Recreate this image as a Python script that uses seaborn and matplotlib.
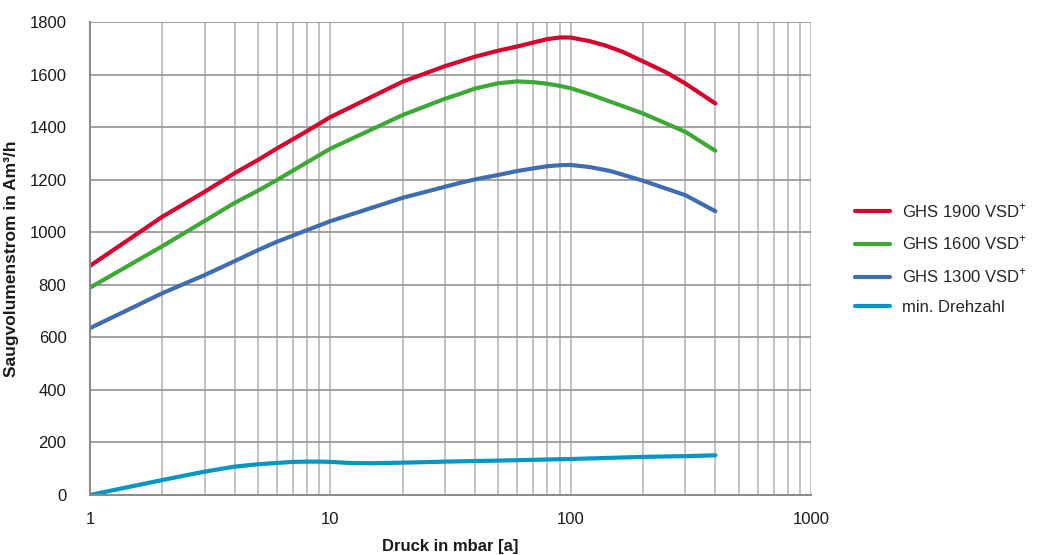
import numpy as np
import pandas as pd
import matplotlib
matplotlib.use("Agg")
import matplotlib.pyplot as plt
import seaborn as sns
from matplotlib.ticker import FixedLocator, NullFormatter, LogLocator

# ---- data ----
p_1900 = [1, 2, 3, 4, 5, 6, 8, 10, 20, 30, 40, 50, 60, 70, 80, 90, 100, 120, 140, 165, 200, 250, 300, 400]
ghs1900 = [872, 1059, 1154, 1225, 1275, 1319, 1385, 1438, 1573, 1632, 1668, 1691, 1707, 1722, 1735, 1741, 1741, 1727, 1710, 1686, 1650, 1608, 1566, 1490]

p_1600 = [1, 2, 3, 4, 5, 6, 8, 10, 20, 30, 35, 40, 50, 60, 70, 80, 90, 100, 120, 146, 200, 300, 400]
ghs1600 = [789, 947, 1043, 1112, 1158, 1199, 1266, 1318, 1446, 1508, 1528, 1547, 1567, 1574, 1571, 1565, 1557, 1548, 1525, 1497, 1452, 1382, 1310]

p_1300 = [1, 2, 3, 4, 5, 6, 8, 10, 20, 30, 35, 40, 50, 60, 70, 80, 90, 100, 120, 146, 200, 300, 400]
ghs1300 = [635, 768, 837, 890, 932, 964, 1008, 1042, 1131, 1173, 1189, 1201, 1218, 1233, 1243, 1251, 1255, 1256, 1248, 1233, 1196, 1141, 1080]

p_min = [1, 2, 3, 4, 5, 6, 7, 8, 9, 10, 12, 15, 20, 30, 50, 100, 200, 300, 400]
min_drehzahl = [0, 57, 89, 108, 117, 122, 126, 127, 127, 126, 122, 121, 123, 127, 131, 137, 145, 148, 151]

series_names = ["GHS 1900 VSD$^{+}$", "GHS 1600 VSD$^{+}$", "GHS 1300 VSD$^{+}$", "min. Drehzahl"]
colors = ["#D7002E", "#3DA835", "#3F6DB0", "#0096C4"]

y_ticks = [0, 200, 400, 600, 800, 1000, 1200, 1400, 1600, 1800]
x_ticks = [1, 10, 100, 1000]
x_ticklabels = ["1", "10", "100", "1000"]

frames = []
for name, xs, ys in [(series_names[0], p_1900, ghs1900),
                     (series_names[1], p_1600, ghs1600),
                     (series_names[2], p_1300, ghs1300),
                     (series_names[3], p_min, min_drehzahl)]:
    frames.append(pd.DataFrame({"Druck": xs, "Wert": ys, "Serie": name}))
df = pd.concat(frames, ignore_index=True)

sns.set_style("white")
plt.rcParams["font.family"] = ["Liberation Sans", "DejaVu Sans"]
plt.rcParams["mathtext.fontset"] = "custom"
plt.rcParams["mathtext.rm"] = "Liberation Sans"

fig = plt.figure(figsize=(10.41, 5.55), dpi=100)
ax = fig.add_axes([90 / 1041, 1 - 495 / 555, (811 - 90) / 1041, (495 - 22) / 555])

sns.lineplot(data=df, x="Druck", y="Wert", hue="Serie", hue_order=series_names,
             palette=colors, linewidth=3.0, ax=ax, legend=True, sort=True,
             estimator=None)
for ln in ax.get_lines():
    ln.set_solid_capstyle("round")
    ln.set_solid_joinstyle("round")

ax.set_xscale("log")
ax.set_xlim(1, 1000)
ax.set_ylim(0, 1800)

# grid
ax.xaxis.set_major_locator(FixedLocator(x_ticks))
ax.xaxis.set_minor_locator(LogLocator(base=10, subs=np.arange(2, 10)))
ax.xaxis.set_minor_formatter(NullFormatter())
ax.set_xticklabels(x_ticklabels)
ax.set_yticks(y_ticks)
ax.grid(True, axis="x", which="both", color="#BDBDBD", linewidth=1.3, zorder=0)
ax.grid(True, axis="y", which="major", color="#9A9A9A", linewidth=1.3, zorder=0)
ax.set_axisbelow(True)

ax.tick_params(axis="x", which="major", direction="out", length=7, width=1.3,
               color="#8C8C8C", labelsize=12, pad=5, labelcolor="#1A1A1A")
ax.tick_params(axis="x", which="minor", direction="in", length=10, width=1.3, color="#8C8C8C")
ax.tick_params(axis="y", which="major", length=0, labelsize=12, pad=17, labelcolor="#1A1A1A")

for side in ["top", "right"]:
    ax.spines[side].set_visible(False)
for side in ["left", "bottom"]:
    ax.spines[side].set_color("#8C8C8C")
    ax.spines[side].set_linewidth(1.5)

ax.set_xlabel("Druck in mbar [a]", fontsize=12, fontweight="bold", labelpad=9, color="#1A1A1A")
ax.set_ylabel("Saugvolumenstrom in Am³/h", fontsize=12.5, fontweight="bold", color="#1A1A1A")
ax.yaxis.set_label_coords((19 - 90) / 721, 0.5)

handles, labels = ax.get_legend_handles_labels()
ax.legend(handles=handles, labels=labels, loc="center left",
          bbox_to_anchor=(855 / 1041, 1 - 258 / 555), bbox_transform=fig.transFigure,
          frameon=False, fontsize=12, handlelength=2.1, handletextpad=0.7,
          labelspacing=0.85, borderaxespad=0, borderpad=0, title=None)

fig.savefig("out.png", dpi=100)
